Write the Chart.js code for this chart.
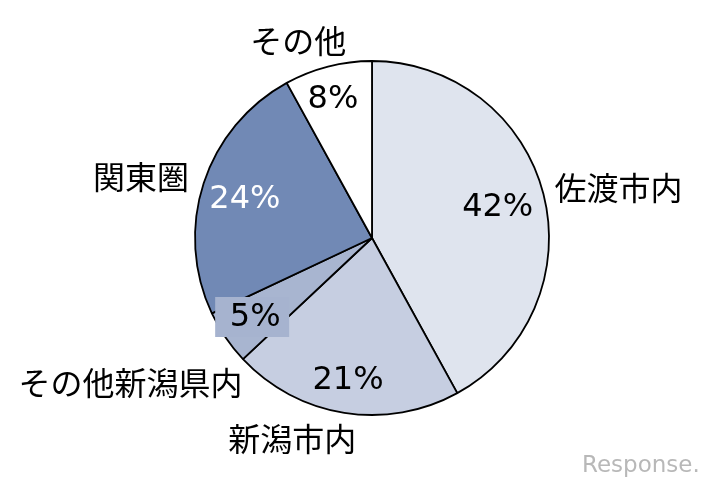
<!DOCTYPE html>
<html>
<head>
<meta charset="utf-8">
<script src="https://cdn.jsdelivr.net/npm/chart.js@4"></script>
<style>
  html, body { margin: 0; padding: 0; background: #fff; }
  #wrap { width: 707px; height: 486px; }
</style>
</head>
<body>
<div id="wrap"><canvas id="chart" width="707" height="486"></canvas></div>
<script>
// データ（12時の位置から時計回り）
const categories = ["佐渡市内", "新潟市内", "その他新潟県内", "関東圏", "その他"];
const shares = [42, 21, 5, 24, 8];
const sliceColors = ["#dfe4ee", "#c6cee1", "#a8b5d0", "#7189b5", "#ffffff"];

// ラベル位置（中心からの角度[度]と半径比）
const pctPos = [[76.6, 0.73], [189.5, 0.82], [235.6, 0.80], [286.7, 0.75], [344.2, 0.81]];
const namePos = [[78.6, 1.42], [201.7, 1.22], [239.1, 1.59], [284.8, 1.35], [339.5, 1.19]];

const labelPlugin = {
  id: "labels",
  afterDatasetsDraw(chart) {
    const ctx = chart.ctx;
    const arc = chart.getDatasetMeta(0).data[0];
    const cx = arc.x, cy = arc.y, r = arc.outerRadius;
    const at = (p) => {
      const a = p[0] * Math.PI / 180;
      return [cx + r * p[1] * Math.sin(a), cy - r * p[1] * Math.cos(a)];
    };
    ctx.save();
    ctx.textAlign = "center";
    ctx.textBaseline = "middle";

    // パーセント
    ctx.font = '32px "DejaVu Sans"';
    shares.forEach((v, i) => {
      const [x, y] = at(pctPos[i]);
      const txt = v + "%";
      if (i === 2) {
        ctx.fillStyle = "#a6b3cf";
        ctx.fillRect(x - 40, y - 21, 74, 40);
      }
      ctx.fillStyle = i === 3 ? "#ffffff" : "#000000";
      ctx.fillText(txt, x, y);
    });

    // カテゴリ名
    ctx.font = '32px "Noto Sans CJK JP"';
    ctx.fillStyle = "#000000";
    categories.forEach((c, i) => {
      const [x, y] = at(namePos[i]);
      ctx.fillText(c, x, y);
    });

    // ウォーターマーク
    ctx.font = '23px "DejaVu Sans"';
    ctx.fillStyle = "#b8b8b8";
    ctx.textAlign = "left";
    ctx.fillText("Response.", 582, 466);
    ctx.restore();
  }
};

const ctx = document.getElementById("chart").getContext("2d");
new Chart(ctx, {
  type: "pie",
  data: {
    labels: categories,
    datasets: [{
      data: shares,
      backgroundColor: sliceColors,
      borderColor: "#000000",
      borderWidth: 1.8,
    }],
  },
  options: {
    responsive: false,
    animation: false,
    radius: 177,
    layout: { padding: { left: 194, right: 157, top: 60, bottom: 70 } },
    plugins: {
      legend: { display: false },
      tooltip: { enabled: false },
    },
  },
  plugins: [labelPlugin],
});
</script>
</body>
</html>
